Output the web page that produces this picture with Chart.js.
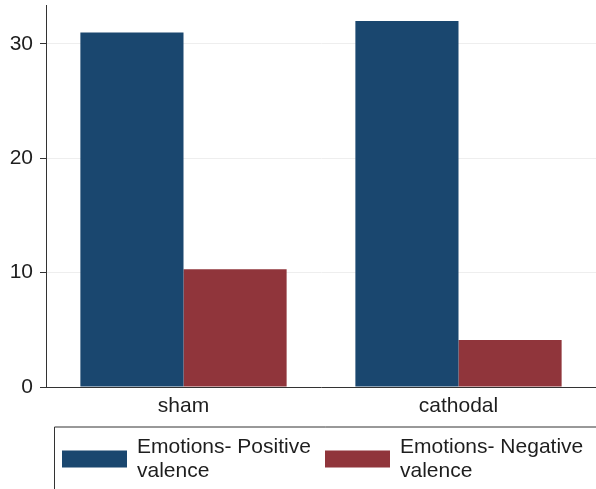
<!DOCTYPE html>
<html>
<head>
<meta charset="utf-8">
<script src="https://cdn.jsdelivr.net/npm/chart.js@4"></script>
<style>
  html, body { margin: 0; padding: 0; background: #fff; }
  #c { display: block; }
</style>
</head>
<body>
<canvas id="c" width="596" height="489"></canvas>
<script>
// Group labels along the x axis
const categories = ["sham", "cathodal"];
// Mean emotion counts per stimulation condition
const positiveValence = [31.0, 32.0];
const negativeValence = [10.3, 4.1];
// Series names (wrapped onto two lines in the legend)
const seriesNames = [["Emotions- Positive", "valence"], ["Emotions- Negative", "valence"]];
// Labelled y-axis values
const yTicks = [0, 10, 20, 30];

const NAVY = "#1a476f";
const MAROON = "#90353b";
const FONT = "'Liberation Sans', Arial, Helvetica, sans-serif";

// Boxed legend below the x axis, two entries side by side
const boxedLegend = {
  id: "boxedLegend",
  afterDraw(chart) {
    const ctx = chart.ctx;
    const area = chart.chartArea;
    const boxLeft = area.left + 8.5;
    const boxTop = area.bottom + 40;
    ctx.save();
    ctx.strokeStyle = "#333";
    ctx.lineWidth = 1;
    ctx.beginPath();
    ctx.moveTo(chart.width + 2, boxTop);
    ctx.lineTo(boxLeft, boxTop);
    ctx.lineTo(boxLeft, chart.height + 2);
    ctx.stroke();

    const itemX = [boxLeft + 7.5, boxLeft + 270.5];
    ctx.font = "21px " + FONT;
    ctx.textBaseline = "middle";
    ctx.textAlign = "left";
    chart.data.datasets.forEach((ds, i) => {
      const x = itemX[i];
      ctx.fillStyle = ds.backgroundColor;
      ctx.fillRect(x, boxTop + 23.5, 65, 17);
      ctx.fillStyle = "#1e1e1e";
      seriesNames[i].forEach((line, j) => {
        ctx.fillText(line, x + 75, boxTop + 20 + j * 24);
      });
    });
    ctx.restore();
  }
};

new Chart(document.getElementById("c"), {
  type: "bar",
  data: {
    labels: categories,
    datasets: [
      { label: seriesNames[0].join(" "), data: positiveValence, backgroundColor: NAVY, borderWidth: 0 },
      { label: seriesNames[1].join(" "), data: negativeValence, backgroundColor: MAROON, borderWidth: 0 }
    ]
  },
  options: {
    responsive: false,
    devicePixelRatio: 1,
    animation: false,
    layout: { padding: { top: 5, right: 0, left: 0, bottom: 0 } },
    plugins: {
      legend: { display: false },
      tooltip: { enabled: false }
    },
    datasets: {
      bar: { categoryPercentage: 0.75, barPercentage: 1.0 }
    },
    scales: {
      x: {
        grid: { display: false, drawTicks: false },
        border: { display: true, color: "#333", width: 1 },
        ticks: { color: "#1e1e1e", font: { family: FONT, size: 21 }, padding: 7 },
        afterFit(s) { s.height = 102; s.paddingLeft = 0; s.paddingRight = 0; }
      },
      y: {
        min: 0,
        max: 33.4,
        afterBuildTicks(s) { s.ticks = yTicks.map(v => ({ value: v })); },
        grid: { color: "#eeeeee", lineWidth: 1, tickColor: "#333", tickLength: 6 },
        border: { display: true, color: "#333", width: 1 },
        ticks: { color: "#1e1e1e", font: { family: FONT, size: 21 }, padding: 7 },
        afterFit(s) { s.width = 46; s.paddingTop = 0; s.paddingBottom = 0; }
      }
    }
  },
  plugins: [boxedLegend]
});
</script>
</body>
</html>
